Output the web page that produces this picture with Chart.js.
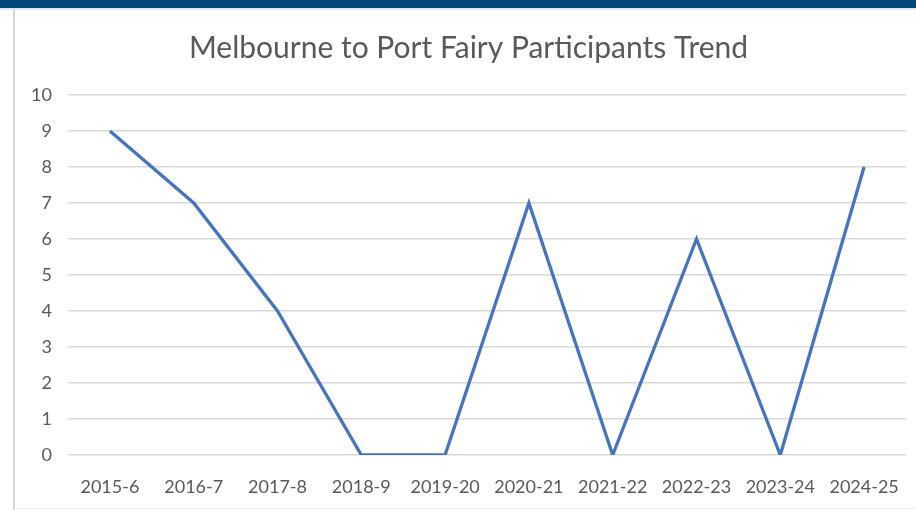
<!DOCTYPE html>
<html>
<head>
<meta charset="utf-8">
<script src="https://cdn.jsdelivr.net/npm/chart.js@4"></script>
<style>
html,body{margin:0;padding:0;background:#fff;width:916px;height:510px;overflow:hidden;}
#bar{position:absolute;left:0;top:0;width:916px;height:8px;background:#02467a;}
#bar2{position:absolute;left:0;top:8px;width:916px;height:2px;background:#dfe8f3;}
#lb{position:absolute;left:13px;top:10px;width:2px;height:500px;background:#d6d6d6;}
#bb{position:absolute;left:15px;top:508px;width:901px;height:1px;background:#eeeeee;}
#wrap{position:absolute;left:0;top:0;width:916px;height:510px;}
canvas{display:block;}
</style>
</head>
<body>
<div id="wrap"><canvas id="c" width="916" height="510"></canvas></div>
<div id="bar"></div><div id="bar2"></div><div id="lb"></div><div id="bb"></div>
<script>
const categories = ["2015-6","2016-7","2017-8","2018-9","2019-20","2020-21","2021-22","2022-23","2023-24","2024-25"];
const participants = [9,7,4,0,0,7,0,6,0,8];
const chartTitle = "Melbourne to Port Fairy Participants Trend";

new Chart(document.getElementById('c'), {
  type: 'line',
  data: {
    labels: categories,
    datasets: [{
      label: 'Participants',
      data: participants,
      borderColor: '#4675c0',
      borderWidth: 3.3,
      pointRadius: 0,
      tension: 0,
      fill: false
    }]
  },
  options: {
    responsive: false,
    animation: false,
    layout: { padding: { left: 31, right: 10, top: 30, bottom: 0 } },
    plugins: {
      legend: { display: false },
      tooltip: { enabled: false },
      title: {
        display: true,
        text: chartTitle,
        color: '#595959',
        font: { family: 'Lato', size: 30, weight: 'normal' },
        padding: { top: 0, bottom: 29 }
      }
    },
    scales: {
      x: {
        offset: true,
        grid: { display: false, drawTicks: false },
        border: { display: false },
        afterFit: s => { s.height = 55; s.paddingLeft = 0; s.paddingRight = 0; },
        ticks: { color: '#595959', font: { family: 'Lato', size: 18 }, padding: 21, maxRotation: 0, autoSkip: false }
      },
      y: {
        min: 0, max: 10,
        afterFit: s => { s.width = 37; },
        grid: { color: '#d9d9d9', lineWidth: 1.5, drawTicks: false },
        border: { display: false },
        ticks: { stepSize: 1, color: '#595959', font: { family: 'Lato', size: 18 }, padding: 16 }
      }
    }
  }
});
</script>
</body>
</html>
